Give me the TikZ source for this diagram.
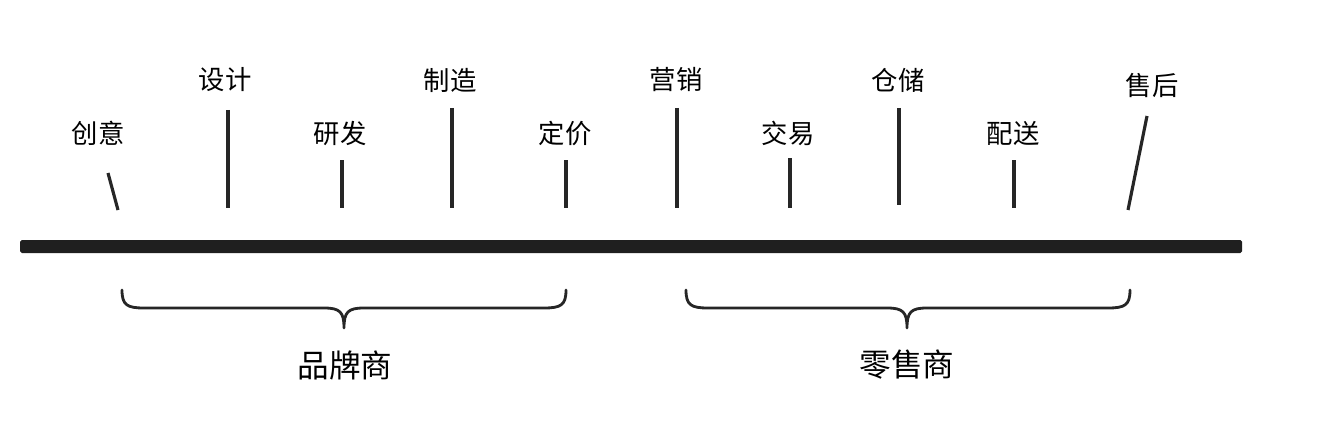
\documentclass[tikz,border=0pt]{standalone}
\usepackage{fontspec}
\newfontfamily\cjk{Noto Sans CJK SC}
\begin{document}
\begin{tikzpicture}[x=0.02cm,y=-0.02cm,
  lbl/.style={font=\cjk\fontsize{15}{18}\selectfont,text=black},
  big/.style={font=\cjk\fontsize{18}{22}\selectfont,text=black},
  tick/.style={line width=1.8pt,black!85},
  brace/.style={line width=1.6pt,black!85,line cap=round,line join=round}]
\useasboundingbox (0,0) rectangle (1325,429);
\fill[black!88,rounded corners=1pt] (20,240) rectangle (1242,253);
% ticks and labels
\foreach \nm/\lx/\ly/\ax/\ay/\bx/\by in {
  cy/98/133/108/173/118/210,
  sj/225/80/228/110/228/208,
  yf/340/133/342/160/342/208,
  zz/450/80/452/108/452/208,
  dj/565/133/566/160/566/208,
  yx/676/80/677/108/677/208,
  jy/788/133/790/158/790/208,
  cc/898/80/899/108/899/205,
  ps/1013/133/1014/160/1014/208,
  sh/1152/85/1147/116/1128/210}{
  \coordinate (\nm a) at (\ax,\ay);
  \coordinate (\nm b) at (\bx,\by);
  \draw[tick] (\nm a) -- (\nm b);
}
\node[lbl] (ncy) at (98,133) {创意};
\node[lbl] (nsj) at (225,80) {设计};
\node[lbl] (nyf) at (340,133) {研发};
\node[lbl] (nzz) at (450,80) {制造};
\node[lbl] (ndj) at (565,133) {定价};
\node[lbl] (nyx) at (676,80) {营销};
\node[lbl] (njy) at (788,133) {交易};
\node[lbl] (ncc) at (898,80) {仓储};
\node[lbl] (nps) at (1013,133) {配送};
\node[lbl] (nsh) at (1152,85) {售后};
% braces
\foreach \l/\m/\r in {122/344/566, 686/907/1130}{
  \draw[brace] (\l,290) .. controls (\l,305) and (\l+5,308) .. (\l+22,308)
    -- (\m-20,308) .. controls (\m-4,308) and (\m,312) .. (\m,328)
    .. controls (\m,312) and (\m+4,308) .. (\m+20,308)
    -- (\r-22,308) .. controls (\r-5,308) and (\r,305) .. (\r,290);
}
\node[big] (brand) at (345,365) {品牌商};
\node[big] (retail) at (907,365) {零售商};
\end{tikzpicture}
\end{document}
